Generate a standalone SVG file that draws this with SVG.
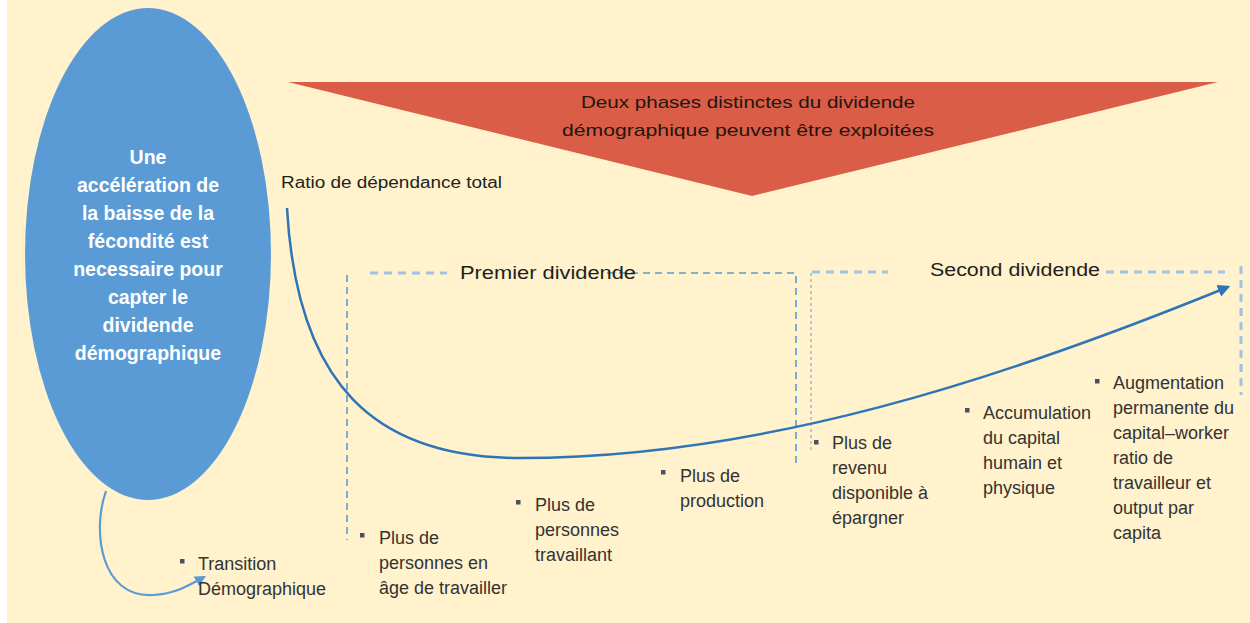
<svg xmlns="http://www.w3.org/2000/svg" width="1250" height="623" viewBox="0 0 1250 623">
<defs>
<style>
.t{font-family:"Liberation Sans",Arial,sans-serif;font-size:18px;fill:#333}
.h{font-family:"Liberation Sans",Arial,sans-serif;font-size:18px;fill:#1e1e1e}
.e{font-family:"Liberation Sans",Arial,sans-serif;font-size:19.5px;font-weight:bold;fill:#fff;text-anchor:middle}
.tri{font-family:"Liberation Sans",Arial,sans-serif;font-size:17px;fill:#241510;text-anchor:middle}
.b{fill:#4a5060}
.dl{fill:none;stroke:#9DC3E6;stroke-width:3;stroke-dasharray:8 6}
.dd{fill:none;stroke:#5B9BD5;stroke-width:1.6;stroke-dasharray:7 5}
.dt{fill:none;stroke:#7FAEDC;stroke-width:1.2;stroke-dasharray:3 3}
</style>
<marker id="ah" viewBox="0 0 10 10" refX="8" refY="5" markerWidth="5" markerHeight="5" orient="auto" markerUnits="strokeWidth">
<path d="M0,0 L10,5 L0,10 z" fill="#2E75B6"/>
</marker>
<marker id="ah2" viewBox="0 0 10 10" refX="8" refY="5" markerWidth="5" markerHeight="5" orient="auto" markerUnits="strokeWidth">
<path d="M0,0 L10,5 L0,10 z" fill="#5B9BD5"/>
</marker>
</defs>
<rect x="0" y="0" width="1250" height="623" fill="#ffffff"/>
<rect x="7" y="0" width="1243" height="623" fill="#FFF2CC"/>

<g id="ellipse-node">
<ellipse cx="148" cy="254" rx="123" ry="246" fill="#5B9BD5"/>
<text class="e" x="148" y="164">Une</text>
<text class="e" x="148" y="192">accélération de</text>
<text class="e" x="148" y="220">la baisse de la</text>
<text class="e" x="148" y="248">fécondité est</text>
<text class="e" x="148" y="276">necessaire pour</text>
<text class="e" x="148" y="304">capter le</text>
<text class="e" x="148" y="332">dividende</text>
<text class="e" x="148" y="360">démographique</text>
</g>

<g id="triangle-node">
<polygon points="288,82 1218,82 752,196" fill="#D95D47"/>
<text class="tri" x="748" y="108" textLength="334" lengthAdjust="spacingAndGlyphs">Deux phases distinctes du dividende</text>
<text class="tri" x="748" y="136" textLength="372" lengthAdjust="spacingAndGlyphs">démographique peuvent être exploitées</text>
</g>

<g id="ratio-label">
<text class="t" x="281" y="188" style="font-size:16px;fill:#222" textLength="221" lengthAdjust="spacingAndGlyphs">Ratio de dépendance  total</text>
</g>

<g id="premier-dividende">
<path class="dd" d="M347,275 V540"/>
<path class="dl" d="M370,273 H447"/>
<path class="dd" d="M607,273 H796 V467"/>
<text class="h" x="460" y="279" textLength="176" lengthAdjust="spacingAndGlyphs">Premier dividende</text>
</g>

<g id="second-dividende">
<path class="dt" d="M811,273 V450"/>
<path class="dl" d="M812,272 H888"/>
<path class="dl" d="M1106,272 H1225"/>
<path class="dl" d="M1241,266 V395"/>
<text class="h" x="930" y="276" textLength="170" lengthAdjust="spacingAndGlyphs">Second dividende</text>
</g>

<g id="connectors">
<path d="M287,208 C297,385 375,458 520,458 C760,458 1000,380 1228,287" fill="none" stroke="#2E75B6" stroke-width="2.5" marker-end="url(#ah)"/>
<path d="M106,491 C92,530 100,598 153,595 C175,594 190,585 204,577" fill="none" stroke="#5B9BD5" stroke-width="2.2" marker-end="url(#ah2)"/>
</g>

<g id="transition">
<rect class="b" x="180" y="559" width="4.5" height="4.5"/>
<text class="t" x="198" y="570">Transition</text>
<text class="t" x="198" y="595">Démographique</text>
</g>

<g id="age-travailler">
<rect class="b" x="360" y="533" width="4.5" height="4.5"/>
<text class="t" x="379" y="544">Plus de</text>
<text class="t" x="379" y="569">personnes en</text>
<text class="t" x="379" y="594">âge de travailler</text>
</g>

<g id="personnes-travaillant">
<rect class="b" x="516" y="500" width="4.5" height="4.5"/>
<text class="t" x="535" y="511">Plus de</text>
<text class="t" x="535" y="536">personnes</text>
<text class="t" x="535" y="561">travaillant</text>
</g>

<g id="production">
<rect class="b" x="661" y="470" width="4.5" height="4.5"/>
<text class="t" x="680" y="482">Plus de</text>
<text class="t" x="680" y="507">production</text>
</g>

<g id="revenu">
<rect class="b" x="814" y="440" width="4.5" height="4.5"/>
<text class="t" x="832" y="449">Plus de</text>
<text class="t" x="832" y="474">revenu</text>
<text class="t" x="832" y="499">disponible à</text>
<text class="t" x="832" y="524">épargner</text>
</g>

<g id="accumulation">
<rect class="b" x="965" y="408" width="4.5" height="4.5"/>
<text class="t" x="983" y="419">Accumulation</text>
<text class="t" x="983" y="444">du capital</text>
<text class="t" x="983" y="469">humain et</text>
<text class="t" x="983" y="494">physique</text>
</g>

<g id="augmentation">
<rect class="b" x="1095" y="379" width="4.5" height="4.5"/>
<text class="t" x="1113" y="389">Augmentation</text>
<text class="t" x="1113" y="414">permanente  du</text>
<text class="t" x="1113" y="439">capital–worker</text>
<text class="t" x="1113" y="464">ratio de</text>
<text class="t" x="1113" y="489">travailleur et</text>
<text class="t" x="1113" y="514">output par</text>
<text class="t" x="1113" y="539">capita</text>
</g>
</svg>
